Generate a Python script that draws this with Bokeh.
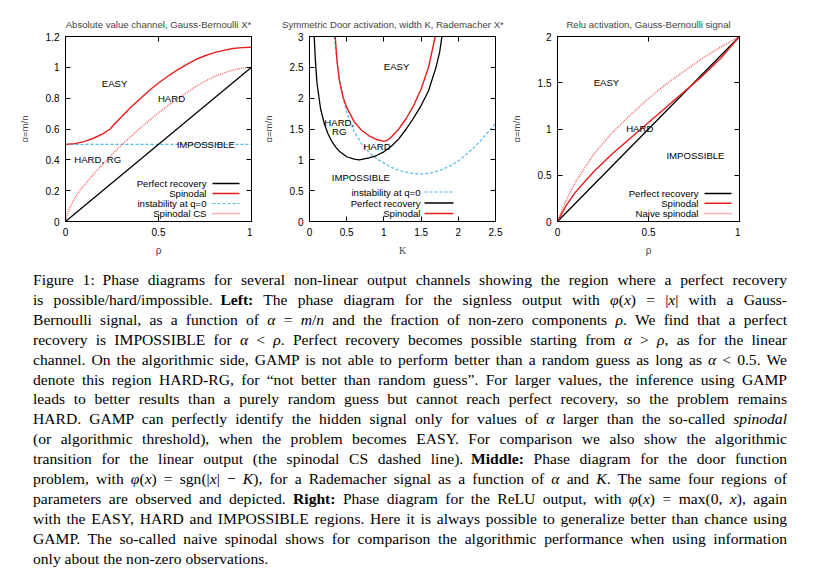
from bokeh.plotting import figure
from bokeh.models import Range1d, FixedTicker, LinearAxis, Label, Arrow, Div
from bokeh.layouts import column, row
from bokeh.core.properties import value
from bokeh.embed import file_html
from bokeh.resources import INLINE

# ---------------- data ----------------
# Panel 1: absolute value channel
p1_title = "Absolute value channel, Gauss-Bernoulli X*"
p1_xticks = [0, 0.5, 1]
p1_xlabels = ["0", "0.5", "1"]
p1_yticks = [0, 0.2, 0.4, 0.6, 0.8, 1.0, 1.2]
p1_ylabels = ["0", "0.2", "0.4", "0.6", "0.8", "1", "1.2"]
p1_rho_perfect = [0, 1]
p1_alpha_perfect = [0, 1]
p1_rho_spin = [0, 0.05, 0.1, 0.15, 0.2, 0.24, 0.27, 0.3, 0.35, 0.4, 0.45, 0.5, 0.55,
               0.6, 0.65, 0.7, 0.75, 0.8, 0.85, 0.9, 0.95, 1.0]
p1_alpha_spin = [0.500, 0.505, 0.518, 0.540, 0.568, 0.600, 0.640, 0.678, 0.740, 0.795,
                 0.850, 0.898, 0.942, 0.982, 1.018, 1.050, 1.075, 1.095, 1.110, 1.122,
                 1.128, 1.130]
p1_rho_inst = [0, 1]
p1_alpha_inst = [0.5, 0.5]
p1_rho_cs = [0, 0.01, 0.02, 0.04, 0.06, 0.08, 0.1, 0.15, 0.2, 0.25, 0.3, 0.35, 0.4, 0.45,
             0.5, 0.55, 0.6, 0.65, 0.7, 0.75, 0.8, 0.85, 0.9, 0.95, 1.0]
p1_alpha_cs = [0, 0.045, 0.08, 0.13, 0.17, 0.205, 0.235, 0.305, 0.37, 0.435, 0.495, 0.55,
               0.605, 0.655, 0.705, 0.75, 0.795, 0.835, 0.875, 0.91, 0.94, 0.963, 0.982,
               0.995, 1.0]
p1_region_text = ["EASY", "HARD", "IMPOSSIBLE", "HARD, RG"]
p1_region_x = [0.264, 0.57, 0.754, 0.173]
p1_region_y = [0.898, 0.80, 0.50, 0.405]
p1_legend = ["Perfect recovery", "Spinodal", "instability at q=0", "Spinodal CS"]

# Panel 2: symmetric door
p2_title = "Symmetric Door  activation, width K, Rademacher X*"
p2_xticks = [0, 0.5, 1, 1.5, 2, 2.5]
p2_xlabels = ["0", "0.5", "1", "1.5", "2", "2.5"]
p2_yticks = [0, 0.5, 1, 1.5, 2, 2.5, 3]
p2_ylabels = ["0", "0.5", "1", "1.5", "2", "2.5", "3"]
p2_k_perfect = [0.063, 0.08, 0.1, 0.15, 0.2, 0.25, 0.3, 0.35, 0.4, 0.5, 0.6, 0.67, 0.8,
                0.9, 1.0, 1.1, 1.2, 1.3, 1.4, 1.5, 1.6, 1.7, 1.75, 1.78]
p2_alpha_perfect = [3.0, 2.6, 2.25, 1.82, 1.58, 1.42, 1.30, 1.21, 1.14, 1.05, 1.01, 1.0,
                    1.03, 1.07, 1.13, 1.22, 1.34, 1.50, 1.68, 1.88, 2.12, 2.5, 2.75, 3.0]
p2_k_spin = [0.346, 0.37, 0.4, 0.45, 0.5, 0.6, 0.7, 0.8, 0.9, 1.0, 1.05, 1.1, 1.2, 1.3,
             1.4, 1.5, 1.6, 1.69]
p2_alpha_spin = [3.0, 2.6, 2.3, 2.02, 1.85, 1.62, 1.48, 1.39, 1.33, 1.30, 1.32, 1.37,
                 1.50, 1.67, 1.88, 2.15, 2.5, 3.0]
p2_k_inst = [0.33, 0.36, 0.4, 0.45, 0.5, 0.6, 0.7, 0.8, 0.9, 1.0, 1.1, 1.2, 1.3, 1.4,
             1.5, 1.6, 1.7, 1.8, 1.9, 2.0, 2.1, 2.2, 2.3, 2.4, 2.5]
p2_alpha_inst = [3.0, 2.7, 2.33, 2.02, 1.77, 1.46, 1.26, 1.12, 1.02, 0.95, 0.88, 0.83,
                 0.80, 0.78, 0.77, 0.78, 0.81, 0.85, 0.91, 0.98, 1.08, 1.19, 1.31, 1.45,
                 1.59]
p2_region_text = ["EASY", "HARD,", "RG", "HARD", "IMPOSSIBLE"]
p2_region_x = [1.17, 0.40, 0.40, 0.907, 0.69]
p2_region_y = [2.51, 1.60, 1.46, 1.215, 0.707]
p2_legend = ["instability at q=0", "Perfect recovery", "Spinodal"]

# Panel 3: ReLU
p3_title = "Relu activation, Gauss-Bernoulli signal"
p3_xticks = [0, 0.5, 1]
p3_xlabels = ["0", "0.5", "1"]
p3_yticks = [0, 0.5, 1, 1.5, 2]
p3_ylabels = ["0", "0.5", "1", "1.5", "2"]
p3_rho_perfect = [0, 1]
p3_alpha_perfect = [0, 2]
p3_rho_spin = [0, 0.05, 0.1, 0.2, 0.3, 0.4, 0.5, 0.6, 0.7, 0.8, 0.9, 0.95, 1.0]
p3_alpha_spin = [0, 0.18, 0.32, 0.54, 0.73, 0.90, 1.07, 1.24, 1.41, 1.58, 1.77, 1.885, 2.0]
p3_rho_naive = [0, 0.025, 0.05, 0.1, 0.2, 0.3, 0.4, 0.5, 0.6, 0.7, 0.8, 0.9, 1.0]
p3_alpha_naive = [0, 0.13, 0.24, 0.43, 0.73, 0.96, 1.15, 1.33, 1.49, 1.63, 1.77, 1.89, 2.0]
p3_region_text = ["EASY", "HARD", "IMPOSSIBLE"]
p3_region_x = [0.269, 0.452, 0.758]
p3_region_y = [1.5, 1.007, 0.71]
p3_legend = ["Perfect recovery", "Spinodal", "Naive spinodal"]

caption_lines = [
    'Figure 1:&ensp;Phase diagrams for several non-linear output channels showing the region where a perfect recovery',
    'is possible/hard/impossible.&ensp;<b>Left:</b> The phase diagram for the signless output with <i>φ</i>(<i>x</i>) = |<i>x</i>| with a Gauss-',
    'Bernoulli signal, as a function of <i>α</i> = <i>m</i>/<i>n</i> and the fraction of non-zero components <i>ρ</i>. We find that a perfect',
    'recovery is IMPOSSIBLE for <i>α</i> &lt; <i>ρ</i>. Perfect recovery becomes possible starting from <i>α</i> &gt; <i>ρ</i>, as for the linear',
    'channel. On the algorithmic side, GAMP is not able to perform better than a random guess as long as <i>α</i> &lt; 0.5. We',
    'denote this region HARD-RG, for “not better than random guess”. For larger values, the inference using GAMP',
    'leads to better results than a purely random guess but cannot reach perfect recovery, so the problem remains',
    'HARD. GAMP can perfectly identify the hidden signal only for values of <i>α</i> larger than the so-called <i>spinodal</i>',
    '(or algorithmic threshold), when the problem becomes EASY. For comparison we also show the algorithmic',
    'transition for the linear output (the spinodal CS dashed line).&ensp;<b>Middle:</b> Phase diagram for the door function',
    'problem, with <i>φ</i>(<i>x</i>) = sgn(|<i>x</i>| − <i>K</i>), for a Rademacher signal as a function of <i>α</i> and <i>K</i>. The same four regions of',
    'parameters are observed and depicted. <b>Right:</b> Phase diagram for the ReLU output, with <i>φ</i>(<i>x</i>) = max(0, <i>x</i>), again',
    'with the EASY, HARD and IMPOSSIBLE regions. Here it is always possible to generalize better than chance using',
    'GAMP. The so-called naive spinodal shows for comparison the algorithmic performance when using information',
    'only about the non-zero observations.',
]

# ---------------- style ----------------
BLACK = "#000000"
RED = "#e61e1e"
BLUE = "#4db8e8"
PINK = "#ee5a5a"
SANS = "Liberation Sans"
FS = "9.6px"
TFS = "10px"
DASH = "3 2"
DOT = "1 1"


def style_axis(ax, ticks, labels, show):
    ax.ticker = FixedTicker(ticks=ticks)
    ax.major_label_overrides = {t: l for t, l in zip(ticks, labels)}
    ax.major_tick_in = 5
    ax.major_tick_out = 0
    ax.minor_tick_in = 0
    ax.minor_tick_out = 0
    ax.axis_line_color = BLACK
    ax.major_tick_line_color = BLACK
    ax.major_label_text_font = SANS
    if show:
        ax.major_label_text_color = BLACK
        ax.major_label_text_font_size = TFS
        ax.major_label_standoff = 6
    else:
        ax.major_label_text_color = None
        ax.major_label_text_font_size = "0px"
        ax.major_label_standoff = 0


def make_panel(title, xr, yr, xt, xl, yt, yl, width, bl, br, xlabel, xlabel_font,
               title_align="center", title_offset=0):
    p = figure(width=width, height=250, x_range=Range1d(*xr), y_range=Range1d(*yr),
               output_backend="svg", toolbar_location=None,
               min_border_left=bl, min_border_right=br, min_border_top=28,
               min_border_bottom=36)
    p.xgrid.visible = False
    p.ygrid.visible = False
    p.background_fill_color = "white"
    p.border_fill_color = "white"
    p.outline_line_color = BLACK
    p.outline_line_width = 1
    p.outline_line_alpha = 1
    p.title.text = title
    p.title.text_font = SANS
    p.title.text_font_size = FS
    p.title.text_font_style = "normal"
    p.title.align = title_align
    p.title.offset = title_offset
    p.title.standoff = 13
    style_axis(p.xaxis[0], xt, xl, True)
    style_axis(p.yaxis[0], yt, yl, True)
    p.xaxis.axis_label = xlabel
    p.xaxis.axis_label_text_font = xlabel_font
    p.xaxis.axis_label_text_font_size = "10px"
    p.xaxis.axis_label_text_font_style = "normal"
    p.xaxis.axis_label_standoff = 6
    p.yaxis.axis_label = "α=m/n"
    p.yaxis.axis_label_text_font = SANS
    p.yaxis.axis_label_text_font_size = FS
    p.yaxis.axis_label_text_font_style = "normal"
    p.yaxis.axis_label_standoff = 13
    top = LinearAxis()
    style_axis(top, xt, xl, False)
    p.add_layout(top, "above")
    right = LinearAxis()
    style_axis(right, yt, yl, False)
    p.add_layout(right, "right")
    return p


def add_regions(p, texts, xs, ys):
    p.text(x=xs, y=ys, text=texts, text_font=value(SANS), text_font_size=FS,
           text_align="center", text_baseline="middle", text_color=BLACK)


def add_legend(p, names, colors, dashes, widths, text_right, x0, x1, ys):
    for name, c, d, w, y in zip(names, colors, dashes, widths, ys):
        p.add_layout(Label(x=text_right, y=y, x_units="screen", y_units="screen", text=name,
                           text_align="right", text_baseline="middle", text_font=SANS,
                           text_font_size=FS, text_color=BLACK))
        p.add_layout(Arrow(end=None, x_start=x0, y_start=y, x_end=x1, y_end=y,
                           start_units="screen", end_units="screen", line_color=c,
                           line_dash=d, line_width=w))


# ---------------- panel 1 ----------------
p1 = make_panel(p1_title, (0, 1), (0, 1.2), p1_xticks, p1_xlabels, p1_yticks, p1_ylabels,
                244, 57, 1, "ρ", SANS)
p1.line(p1_rho_inst, p1_alpha_inst, line_color=BLUE, line_width=1.2, line_dash=DASH)
p1.line(p1_rho_cs, p1_alpha_cs, line_color=PINK, line_width=1.3, line_dash=DOT)
p1.line(p1_rho_perfect, p1_alpha_perfect, line_color=BLACK, line_width=1.3)
p1.line(p1_rho_spin, p1_alpha_spin, line_color=RED, line_width=1.4)
add_regions(p1, p1_region_text, p1_region_x, p1_region_y)
add_legend(p1, p1_legend, [BLACK, RED, BLUE, PINK], ["solid", "solid", DASH, DOT],
           [1.3, 1.4, 1.2, 1.3], 141, 147, 174, [38, 28, 18, 8])

# ---------------- panel 2 ----------------
p2 = make_panel(p2_title, (0, 2.5), (0, 3), p2_xticks, p2_xlabels, p2_yticks, p2_ylabels,
                255, 57, 12, "K", "Liberation Serif", title_align="right", title_offset=-11)
p2.line(p2_k_inst, p2_alpha_inst, line_color=BLUE, line_width=1.2, line_dash=DASH)
p2.line(p2_k_perfect, p2_alpha_perfect, line_color=BLACK, line_width=1.3)
p2.line(p2_k_spin, p2_alpha_spin, line_color=RED, line_width=1.4)
add_regions(p2, p2_region_text, p2_region_x, p2_region_y)
add_legend(p2, p2_legend, [BLUE, BLACK, RED], [DASH, "solid", "solid"],
           [1.2, 1.3, 1.4], 111, 115, 144, [29.5, 18.5, 8])

# ---------------- panel 3 ----------------
p3 = make_panel(p3_title, (0, 1), (0, 2), p3_xticks, p3_xlabels, p3_yticks, p3_ylabels,
                233, 46, 1, "ρ", SANS)
p3.line(p3_rho_naive, p3_alpha_naive, line_color=PINK, line_width=1.3, line_dash=DOT)
p3.line(p3_rho_perfect, p3_alpha_perfect, line_color=BLACK, line_width=1.3)
p3.line(p3_rho_spin, p3_alpha_spin, line_color=RED, line_width=1.4)
add_regions(p3, p3_region_text, p3_region_x, p3_region_y)
add_legend(p3, p3_legend, [BLACK, RED, PINK], ["solid", "solid", DOT],
           [1.3, 1.4, 1.3], 141, 147, 174, [28, 18.3, 8])

# ---------------- caption ----------------
line_style = ("text-align: justify; text-align-last: justify; white-space: nowrap;")
parts = []
for i, ln in enumerate(caption_lines):
    st = line_style if i < len(caption_lines) - 1 else "text-align: left; white-space: nowrap;"
    parts.append(f'<div style="{st}">{ln}</div>')
html = ('<div style="width: 754px; font-family: \'Liberation Serif\', serif; '
        'font-size: 15.6px; line-height: 19.9px; color: #000;">' + "".join(parts) + '</div>')
cap = Div(text=html, width=760, height=300, margin=(12, 0, 0, 25))

layout = column(row(p1, p2, p3, spacing=0), cap, spacing=0, margin=(8, 0, 0, 8))
open("out.html", "w").write(file_html(layout, INLINE))
